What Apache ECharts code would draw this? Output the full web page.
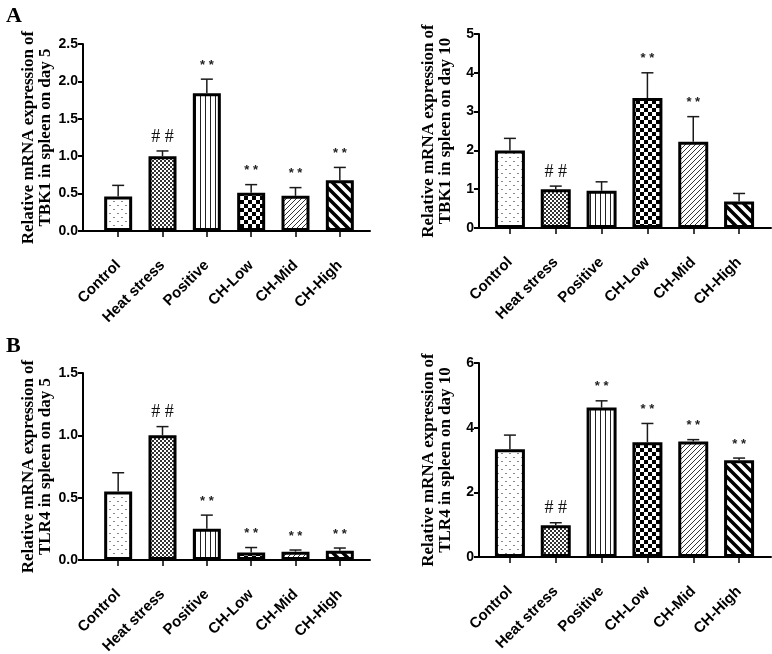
<!DOCTYPE html>
<html>
<head>
<meta charset="utf-8">
<script src="https://cdn.jsdelivr.net/npm/echarts@6/dist/echarts.min.js"></script>
<style>
  html, body { margin: 0; padding: 0; background: #fff; }
  #main { width: 772px; height: 654px; }
</style>
</head>
<body>
<div id="main"></div>
<script>
// groups on the x axis
const groups = ['Control', 'Heat stress', 'Positive', 'CH-Low', 'CH-Mid', 'CH-High'];

// TBK1, day 5 (mean, upper SD)
const tbk1Day5 = [0.46, 1.0, 1.84, 0.51, 0.47, 0.68];
const tbk1Day5Sd = [0.15, 0.07, 0.19, 0.11, 0.11, 0.17];
const tbk1Day5Marks = ['', '# #', '* *', '* *', '* *', '* *'];
const tbk1Day5Axis = [0, 2.5, 0.5];

// TBK1, day 10
const tbk1Day10 = [2.0, 1.0, 0.96, 3.35, 2.22, 0.68];
const tbk1Day10Sd = [0.31, 0.08, 0.23, 0.65, 0.65, 0.21];
const tbk1Day10Marks = ['', '# #', '', '* *', '* *', ''];
const tbk1Day10Axis = [0, 5, 1];

// TLR4, day 5
const tlr4Day5 = [0.55, 1.0, 0.25, 0.06, 0.067, 0.075];
const tlr4Day5Sd = [0.15, 0.07, 0.11, 0.04, 0.013, 0.021];
const tlr4Day5Marks = ['', '# #', '* *', '* *', '* *', '* *'];
const tlr4Day5Axis = [0, 1.5, 0.5];

// TLR4, day 10
const tlr4Day10 = [3.33, 0.98, 4.62, 3.55, 3.57, 2.99];
const tlr4Day10Sd = [0.44, 0.08, 0.21, 0.58, 0.06, 0.07];
const tlr4Day10Marks = ['', '# #', '* *', '* *', '* *', '* *'];
const tlr4Day10Axis = [0, 6, 2];

const SANS = '"Liberation Sans", Arial, sans-serif';
const SERIF = '"Liberation Serif", "Times New Roman", serif';

// fill patterns, one per group
function tile(w, h, draw) {
    const c = document.createElement('canvas');
    c.width = w; c.height = h;
    const ctx = c.getContext('2d');
    ctx.fillStyle = '#fff';
    ctx.fillRect(0, 0, w, h);
    draw(ctx, w, h);
    return { image: c, repeat: 'repeat' };
}
const patterns = [
    // sparse dots
    tile(8, 8, (ctx) => {
        ctx.fillStyle = '#8a8a8a';
        ctx.fillRect(1, 1, 2, 1);
        ctx.fillRect(5, 5, 2, 1);
    }),
    // fine checker
    tile(4, 4, (ctx) => {
        ctx.fillStyle = '#333';
        ctx.fillRect(0, 0, 2, 2);
        ctx.fillRect(2, 2, 2, 2);
    }),
    // vertical lines
    tile(5, 4, (ctx) => {
        ctx.fillStyle = '#222';
        ctx.fillRect(0, 0, 1, 4);
    }),
    // big checker
    tile(8, 8, (ctx) => {
        ctx.fillStyle = '#000';
        ctx.fillRect(0, 0, 4, 4);
        ctx.fillRect(4, 4, 4, 4);
    }),
    // thin diagonal /
    tile(5, 5, (ctx, w, h) => {
        ctx.strokeStyle = '#333';
        ctx.lineWidth = 1;
        ctx.beginPath();
        ctx.moveTo(-1, h + 1); ctx.lineTo(w + 1, -1);
        ctx.moveTo(-1, 1); ctx.lineTo(1, -1);
        ctx.moveTo(w - 1, h + 1); ctx.lineTo(w + 1, h - 1);
        ctx.stroke();
    }),
    // thick diagonal \
    tile(10, 10, (ctx, w, h) => {
        ctx.strokeStyle = '#000';
        ctx.lineWidth = 3.5;
        ctx.beginPath();
        ctx.moveTo(-2, -2); ctx.lineTo(w + 2, h + 2);
        ctx.moveTo(-2, h - 2); ctx.lineTo(2, h + 2);
        ctx.moveTo(w - 2, -2); ctx.lineTo(w + 2, 2);
        ctx.stroke();
    })
];

const panels = [
    { means: tbk1Day5, sd: tbk1Day5Sd, marks: tbk1Day5Marks, axis: tbk1Day5Axis, digits: 1,
      name: 'Relative mRNA expression of\nTBK1 in spleen on day 5',
      axisLeft: 83, axisRight: 370, barLeft: 96, barRight: 362, top: 44, bottom: 231, nameGap: 29, barWidth: 28 },
    { means: tbk1Day10, sd: tbk1Day10Sd, marks: tbk1Day10Marks, axis: tbk1Day10Axis, digits: 0,
      name: 'Relative mRNA expression of\nTBK1 in spleen on day 10',
      axisLeft: 479, axisRight: 771, barLeft: 487, barRight: 762, top: 34, bottom: 228, nameGap: 25, barWidth: 30 },
    { means: tlr4Day5, sd: tlr4Day5Sd, marks: tlr4Day5Marks, axis: tlr4Day5Axis, digits: 1,
      name: 'Relative mRNA expression of\nTLR4 in spleen on day 5',
      axisLeft: 83, axisRight: 370, barLeft: 96, barRight: 362, top: 373, bottom: 560, nameGap: 29, barWidth: 28 },
    { means: tlr4Day10, sd: tlr4Day10Sd, marks: tlr4Day10Marks, axis: tlr4Day10Axis, digits: 0,
      name: 'Relative mRNA expression of\nTLR4 in spleen on day 10',
      axisLeft: 479, axisRight: 771, barLeft: 487, barRight: 762, top: 363, bottom: 557, nameGap: 25, barWidth: 30 }
];

let grid = [], xAxis = [], yAxis = [], series = [];

panels.forEach((p, k) => {
    const a = 2 * k, b = 2 * k + 1;
    const h = p.bottom - p.top;
    // outerBoundsMode none: keep the grids where they are, labels may run to the edge
    grid.push({ left: p.axisLeft, top: p.top, width: p.axisRight - p.axisLeft, height: h, outerBoundsMode: 'none' });
    grid.push({ left: p.barLeft, top: p.top, width: p.barRight - p.barLeft, height: h, outerBoundsMode: 'none' });

    // the visible x axis line, running from the y axis
    xAxis.push({
        gridIndex: a, type: 'value', min: 0, max: 1,
        axisLine: { show: true, lineStyle: { color: '#000', width: 2 } },
        axisTick: { show: false }, axisLabel: { show: false }, splitLine: { show: false }
    });
    // the category axis the bars sit on
    xAxis.push({
        gridIndex: b, type: 'category', data: groups,
        axisLine: { show: false },
        axisTick: { show: true, alignWithLabel: true, length: 6, lineStyle: { color: '#000', width: 1.5 } },
        axisLabel: { interval: 0, rotate: 45, margin: 32, fontFamily: SANS, fontWeight: 'bold', fontSize: 15, color: '#000' }
    });

    yAxis.push({
        gridIndex: a, type: 'value', min: p.axis[0], max: p.axis[1], interval: p.axis[2],
        name: p.name, nameLocation: 'middle', nameRotate: 90, nameGap: p.nameGap,
        nameTextStyle: { fontFamily: SERIF, fontWeight: 'bold', fontSize: 17, lineHeight: 17, color: '#000' },
        axisLine: { show: true, lineStyle: { color: '#000', width: 2 } },
        axisTick: { show: true, length: 5, lineStyle: { color: '#000', width: 2 } },
        axisLabel: { margin: 5, fontFamily: SANS, fontWeight: 'bold', fontSize: 14, color: '#000',
                     formatter: (v) => v.toFixed(p.digits) },
        splitLine: { show: false }
    });
    yAxis.push({ gridIndex: b, type: 'value', min: p.axis[0], max: p.axis[1], show: false });

    series.push({
        type: 'bar', xAxisIndex: b, yAxisIndex: b, barWidth: p.barWidth,
        itemStyle: { borderColor: '#000', borderWidth: 3 },
        data: p.means.map((v, i) => ({ value: v, itemStyle: { color: patterns[i] } })),
        z: 2
    });

    series.push({
        type: 'custom', xAxisIndex: b, yAxisIndex: b, z: 3,
        data: p.means.map((v, i) => [i, v, p.sd[i]]),
        renderItem: function (params, api) {
            const i = api.value(0), m = api.value(1), s = api.value(2);
            const lo = api.coord([i, m]);
            const hi = api.coord([i, m + s]);
            const mark = p.marks[params.dataIndex];
            const style = { stroke: '#1a1a1a', lineWidth: 1.5 };
            const kids = [
                { type: 'line', shape: { x1: lo[0], y1: lo[1], x2: hi[0], y2: hi[1] }, style: style },
                { type: 'line', shape: { x1: hi[0] - 6, y1: hi[1], x2: hi[0] + 6, y2: hi[1] }, style: style }
            ];
            if (mark) {
                const isHash = mark.indexOf('#') >= 0;
                kids.push({
                    type: 'text',
                    style: {
                        x: hi[0], y: hi[1] - 14,
                        text: mark, align: 'center', verticalAlign: 'middle',
                        fill: isHash ? '#111' : '#222',
                        font: isHash ? ('18px ' + SERIF) : ('bold 13px ' + SANS)
                    }
                });
            }
            return { type: 'group', children: kids };
        }
    });
});

const myChart = echarts.init(document.getElementById('main'));
myChart.setOption({
    animation: false,
    backgroundColor: '#fff',
    title: [
        { text: 'A', left: 1, top: 0, textStyle: { fontFamily: SERIF, fontWeight: 'bold', fontSize: 22, color: '#000' } },
        { text: 'B', left: 1, top: 330, textStyle: { fontFamily: SERIF, fontWeight: 'bold', fontSize: 22, color: '#000' } }
    ],
    grid: grid,
    xAxis: xAxis,
    yAxis: yAxis,
    series: series
});
</script>
</body>
</html>
